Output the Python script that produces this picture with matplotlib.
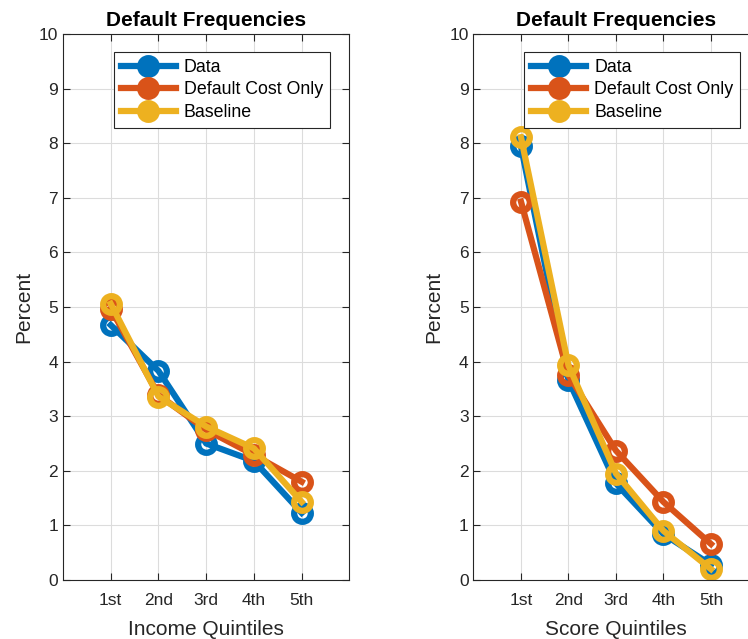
import matplotlib.pyplot as plt

plt.rcParams['font.family'] = ['Liberation Sans', 'DejaVu Sans']

quintiles = ['1st', '2nd', '3rd', '4th', '5th']
x = [1, 2, 3, 4, 5]

# Income quintiles
inc_data = [4.67, 3.83, 2.50, 2.18, 1.23]
inc_cost = [4.97, 3.39, 2.75, 2.29, 1.80]
inc_base = [5.06, 3.36, 2.81, 2.41, 1.43]

# Score quintiles
sc_data = [7.94, 3.66, 1.77, 0.84, 0.28]
sc_cost = [6.93, 3.75, 2.37, 1.43, 0.66]
sc_base = [8.11, 3.93, 1.95, 0.90, 0.20]

labels = ['Data', 'Default Cost Only', 'Baseline']
colors = ['#0072BD', '#D95319', '#EDB120']

fig = plt.figure(figsize=(7.48, 6.39), dpi=100)
ax1 = fig.add_axes([0.0842, 0.0923, 0.383, 0.8545])
ax2 = fig.add_axes([0.633, 0.0923, 0.381, 0.8545])


def draw(ax, series, xlabel):
    for ys, c, lab in zip(series, colors, labels):
        ax.plot(x, ys, color=c, lw=4.5, marker='o', ms=12, mfc='none',
                mew=4.5, label=lab)
    ax.set_xlim(0, 6)
    ax.set_ylim(0, 10)
    ax.set_xticks(x)
    ax.set_xticklabels(quintiles)
    ax.set_yticks(range(0, 11))
    ax.grid(True, color='#dcdcdc', lw=0.8)
    ax.set_axisbelow(True)
    ax.tick_params(direction='in', top=True, right=True, labelsize=12.5,
                   colors='#262626', length=5)
    ax.tick_params(axis='x', pad=9)
    for s in ax.spines.values():
        s.set_color('#262626')
        s.set_linewidth(0.8)
    ax.set_xlabel(xlabel, fontsize=15, color='#262626', labelpad=9)
    ax.set_ylabel('Percent', fontsize=15, color='#262626')
    ax.set_title('Default Frequencies', fontsize=15, fontweight='bold',
                 color='black', pad=6)
    leg = ax.legend(loc='upper left', bbox_to_anchor=(0.178, 0.967),
                    fontsize=12.8, fancybox=False, edgecolor='#262626',
                    framealpha=1, handlelength=3.1, borderpad=0.38,
                    labelspacing=0.32, handletextpad=0.45,
                    borderaxespad=0)
    for h in leg.get_lines():
        h.set_markerfacecolor(h.get_color())
    leg.get_frame().set_linewidth(0.8)


draw(ax1, [inc_data, inc_cost, inc_base], 'Income Quintiles')
draw(ax2, [sc_data, sc_cost, sc_base], 'Score Quintiles')

fig.savefig('out.png', dpi=100)
